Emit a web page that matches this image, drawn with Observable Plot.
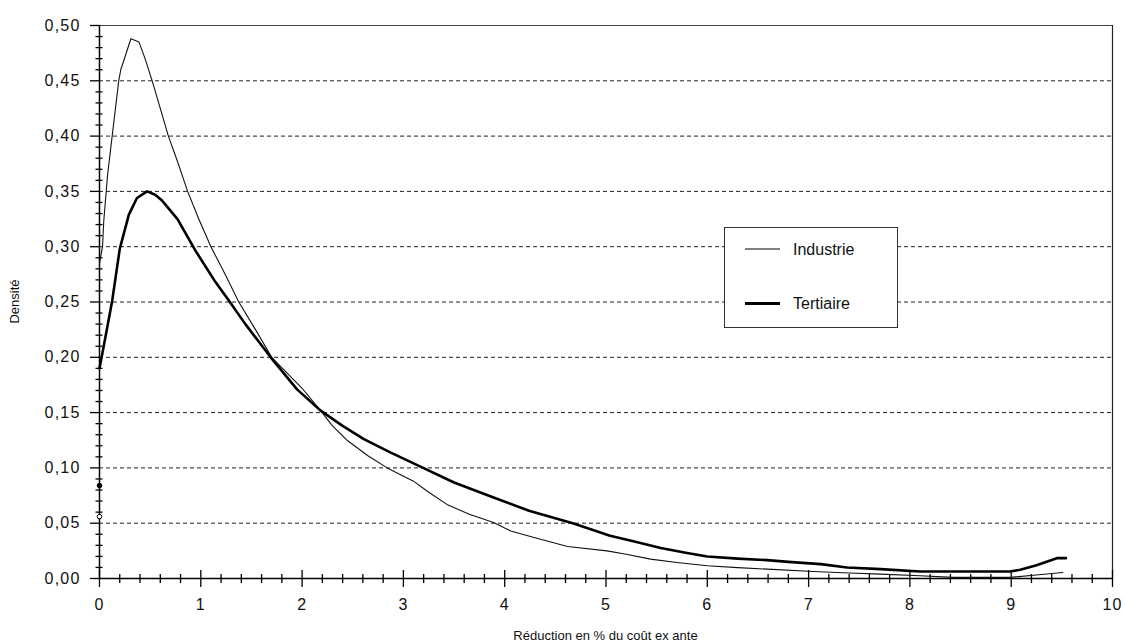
<!DOCTYPE html>
<html><head><meta charset="utf-8">
<script src="https://cdn.jsdelivr.net/npm/d3@7"></script>
<script src="https://cdn.jsdelivr.net/npm/@observablehq/plot@0.6"></script>
<style>body{margin:0;background:#fff} #chart{width:1125px;height:644px}</style>
</head><body><div id="chart"></div>
<script>
// ---- data ----
const industrieX = [0, 0.03, 0.042, 0.08, 0.125, 0.19, 0.21, 0.26, 0.31, 0.39, 0.45, 0.52, 0.6, 0.68, 0.77, 0.87, 0.98, 1.1, 1.24, 1.375, 1.54, 1.7, 1.85, 2.0, 2.18, 2.3, 2.45, 2.65, 2.84, 3.1, 3.25, 3.43, 3.65, 3.89, 4.06, 4.29, 4.62, 5.01, 5.2, 5.44, 5.7, 6.0, 6.3, 6.59, 7.05, 7.4, 7.71, 8.1, 8.43, 8.99, 9.22, 9.51];
const industrieY = [0.285, 0.30, 0.323, 0.365, 0.40, 0.45, 0.46, 0.474, 0.488, 0.485, 0.47, 0.45, 0.425, 0.40, 0.377, 0.35, 0.325, 0.30, 0.275, 0.25, 0.225, 0.20, 0.186, 0.172, 0.152, 0.138, 0.1245, 0.111, 0.10, 0.088, 0.078, 0.067, 0.058, 0.0506, 0.043, 0.037, 0.029, 0.025, 0.022, 0.0175, 0.0145, 0.0115, 0.0098, 0.0085, 0.0063, 0.005, 0.004, 0.0025, 0.001, 0.001, 0.003, 0.0054];
const tertiaireX = [0, 0.05, 0.125, 0.2, 0.29, 0.37, 0.47, 0.55, 0.62, 0.77, 0.95, 1.145, 1.28, 1.44, 1.69, 1.95, 2.18, 2.4, 2.61, 2.87, 3.2, 3.5, 3.89, 4.24, 4.68, 5.04, 5.3, 5.54, 5.8, 6.0, 6.3, 6.59, 6.8, 7.12, 7.38, 7.71, 8.1, 8.5, 8.99, 9.09, 9.25, 9.45, 9.54];
const tertiaireY = [0.19, 0.214, 0.251, 0.298, 0.329, 0.344, 0.350, 0.347, 0.3415, 0.325, 0.296, 0.268, 0.251, 0.230, 0.20, 0.171, 0.152, 0.138, 0.126, 0.114, 0.0998, 0.0868, 0.0733, 0.0612, 0.0497, 0.0386, 0.033, 0.0275, 0.023, 0.0199, 0.018, 0.0166, 0.015, 0.013, 0.010, 0.0085, 0.0063, 0.0063, 0.0063, 0.0079, 0.012, 0.0184, 0.0184];
const zeroMassSeries = ["Industrie", "Tertiaire"];
const zeroMassValues = [0.056, 0.084];
const seriesNames = ["Industrie", "Tertiaire"];
const xTickValues = [0, 1, 2, 3, 4, 5, 6, 7, 8, 9, 10];
const yTickValues = [0, 0.05, 0.10, 0.15, 0.20, 0.25, 0.30, 0.35, 0.40, 0.45, 0.50];
const xTitle = "Réduction en % du coût ex ante";
const yTitle = "Densité";

// ---- build ----
const industrie = industrieX.map((x, i) => ({x, y: industrieY[i]}));
const tertiaire = tertiaireX.map((x, i) => ({x, y: tertiaireY[i]}));
const zeroMass = zeroMassSeries.map((s, i) => ({series: s, x: 0, y: zeroMassValues[i]}));
const xMinor = d3.range(0, 51).map(i => i / 5).filter(v => Math.abs(v - Math.round(v)) > 1e-9);
const yMinor = d3.range(0, 51).map(i => i / 100).filter((v, i) => i % 5 !== 0);
const gridVals = yTickValues.filter(v => v > 0 && v < 0.5);

const W = 1125, H = 644, mL = 99, mR = 13, mT = 25, mB = 66;
const fw = W - mL - mR, fh = H - mT - mB;
const fmt = d => d3.format(".2f")(d).replace(".", ",");
const font = "'Liberation Sans', Arial, sans-serif";

const plot = Plot.plot({
  width: W, height: H,
  marginLeft: mL, marginRight: mR, marginTop: mT, marginBottom: mB,
  style: {fontFamily: font, fontSize: "16px", background: "#fff", color: "#111"},
  x: {domain: [0, 10], axis: null},
  y: {domain: [0, 0.5], axis: null},
  marks: [
    Plot.ruleY(gridVals, {stroke: "#222", strokeWidth: 1, strokeDasharray: "4,3"}),
    Plot.ruleY([0.5], {stroke: "#444", strokeWidth: 1.2}),
    Plot.ruleX([10], {stroke: "#222", strokeWidth: 1.2}),
    // y ticks
    Plot.ruleY(yTickValues, {stroke: "#000", strokeWidth: 1.3, insetLeft: -9, insetRight: fw - 1}),
    Plot.ruleY(yMinor, {stroke: "#000", strokeWidth: 1.3, insetLeft: -3.5, insetRight: fw - 3.5}),
    // x ticks
    Plot.ruleX(xTickValues, {stroke: "#000", strokeWidth: 1.3, insetTop: fh - 8, insetBottom: -9}),
    Plot.ruleX(xMinor, {stroke: "#000", strokeWidth: 1.3, insetTop: fh - 4, insetBottom: -5}),
    Plot.ruleX([0], {stroke: "#000", strokeWidth: 1.5}),
    Plot.ruleY([0], {stroke: "#000", strokeWidth: 1.5}),
    Plot.axisX(xTickValues, {tickSize: 0, tickPadding: 20, tickFormat: d => String(d), label: null, fontSize: 16, fill: "#111"}),
    Plot.axisY(yTickValues, {tickSize: 0, tickPadding: 19, tickFormat: fmt, label: null, fontSize: 16, fill: "#111"}),
    Plot.line(industrie, {x: "x", y: "y", stroke: "#111", strokeWidth: 1.1}),
    Plot.line(tertiaire, {x: "x", y: "y", stroke: "#000", strokeWidth: 2.6}),
    Plot.dot(zeroMass, {x: "x", y: "y", r: 2.3, stroke: "#000", strokeWidth: 1,
      fill: d => d.series === "Tertiaire" ? "#000" : "#fff"})
  ]
});
document.getElementById("chart").appendChild(plot);

const svg = d3.select(plot);
// enforce tick label font size
svg.selectAll('g[aria-label="x-axis tick label"], g[aria-label="y-axis tick label"]')
  .attr("font-size", 16).selectAll("text").attr("font-size", 16);
svg.selectAll('g[aria-label="y-axis tick label"] text').attr("letter-spacing", "1.2px");
svg.selectAll('g[aria-label="x-axis tick label"] text').attr("letter-spacing", "1px");
// axis titles
svg.append("text").attr("x", mL + fw / 2).attr("y", 640)
  .attr("text-anchor", "middle").attr("font-family", font).attr("font-size", 13).attr("fill", "#111")
  .text(xTitle);
svg.append("text").attr("transform", `translate(19,${mT + fh / 2}) rotate(-90)`)
  .attr("text-anchor", "middle").attr("font-family", font).attr("font-size", 13).attr("fill", "#111")
  .text(yTitle);
// legend
const lg = svg.append("g").attr("font-family", font).attr("font-size", 16).attr("text-anchor", "start");
lg.append("rect").attr("x", 724.5).attr("y", 227.5).attr("width", 173).attr("height", 100)
  .attr("fill", "#fff").attr("stroke", "#333").attr("stroke-width", 1);
const legendWidths = [1.1, 2.8];
seriesNames.forEach((name, i) => {
  const y = 249 + i * 54.5;
  lg.append("line").attr("x1", 745).attr("x2", 780).attr("y1", y).attr("y2", y)
    .attr("stroke", "#000").attr("stroke-width", legendWidths[i]);
  lg.append("text").attr("x", 793).attr("y", y).attr("dy", "0.35em").attr("fill", "#111")
    .attr("text-anchor", "start").text(name);
});
</script>
</body></html>
